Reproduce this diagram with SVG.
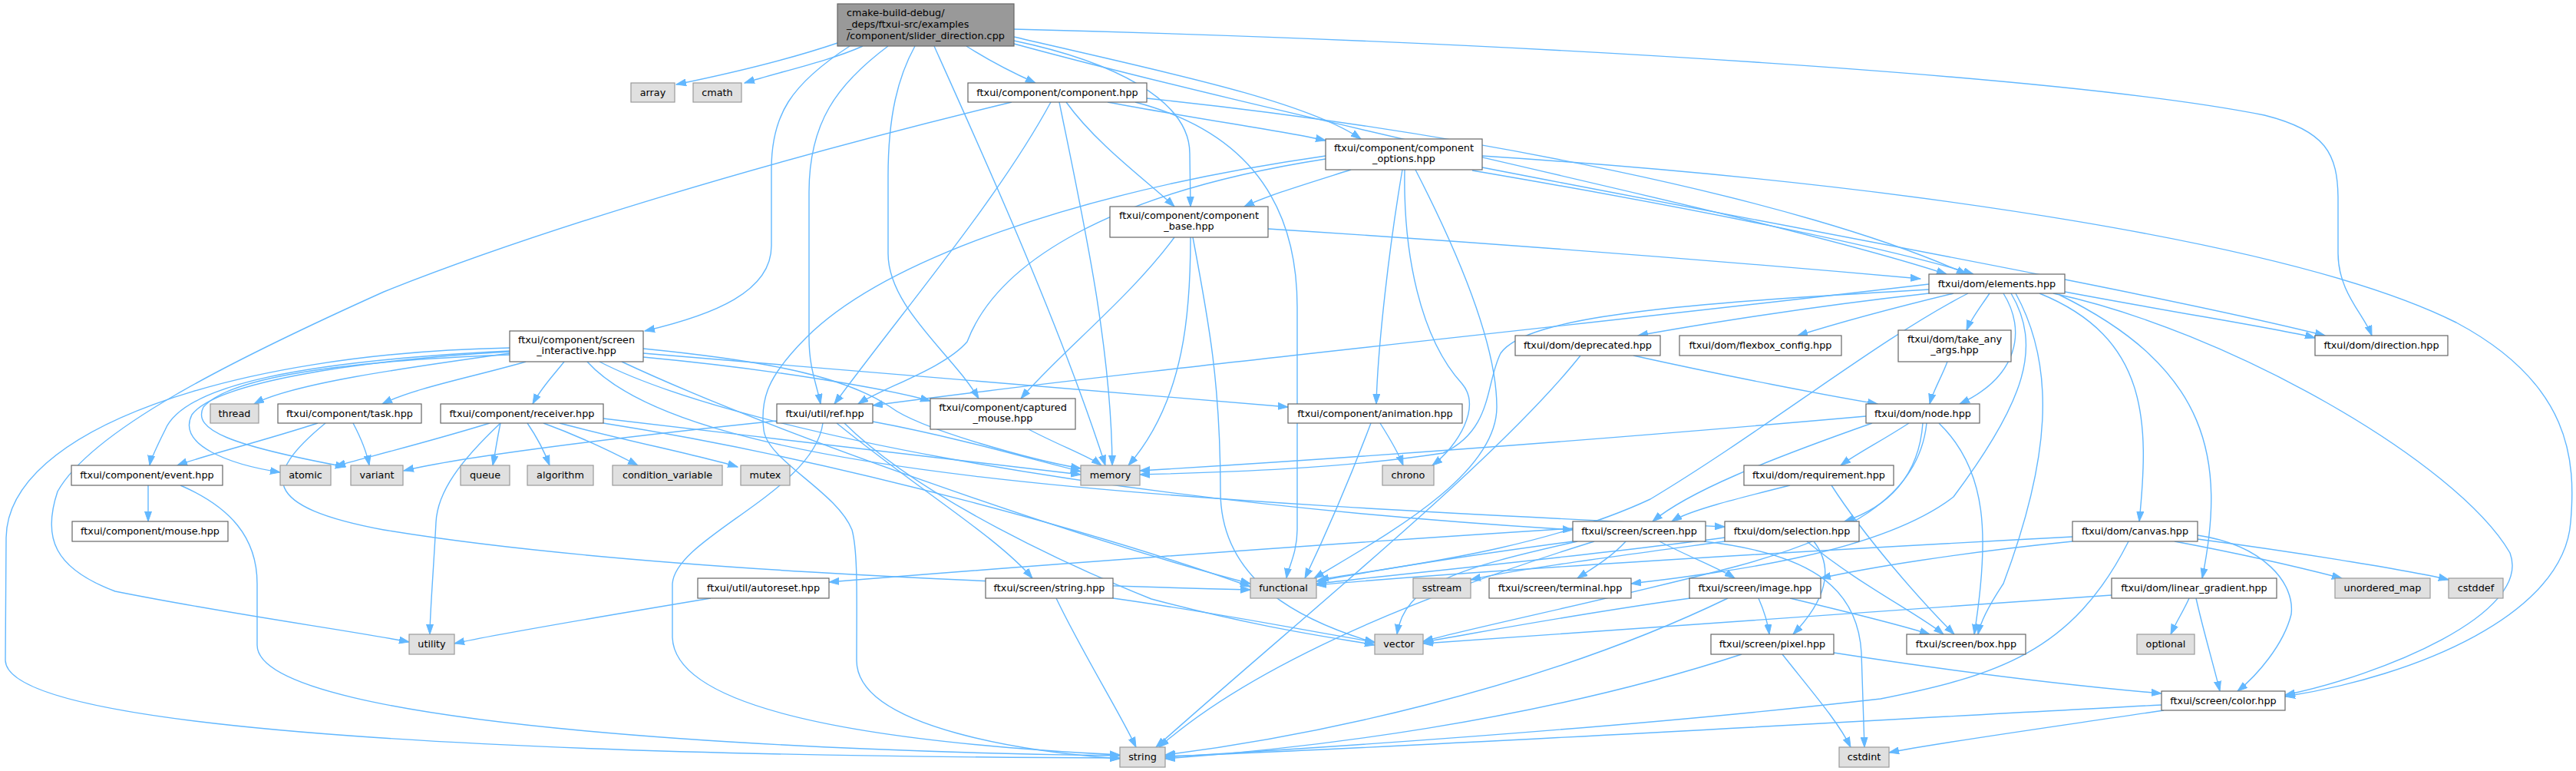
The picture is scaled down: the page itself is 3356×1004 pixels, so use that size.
<svg xmlns="http://www.w3.org/2000/svg" width="3356" height="1004" viewBox="0 0 3356 1004">
<style>
rect{stroke-width:1.2}
.n rect{fill:#ffffff;stroke:#666666}
.x rect{fill:#e0e0e0;stroke:#999999}
.m rect{fill:#999999;stroke:#666666}
text{font-family:"DejaVu Sans",Verdana,sans-serif;font-size:12.8px;fill:#000000;text-anchor:middle}
.m text{text-anchor:start}
#edges path{fill:none;stroke:#63b8ff;stroke-width:1.4;marker-end:url(#a)}
</style>
<defs>
<marker id="a" markerWidth="14" markerHeight="10" refX="13" refY="5" orient="auto" markerUnits="userSpaceOnUse">
<path d="M0,0.5 L13,5 L0,9.5 z" fill="#63b8ff" stroke="#63b8ff" stroke-width="1"/>
</marker>
</defs>
<rect x="0" y="0" width="3356" height="1004" fill="#ffffff"/>
<g id="edges">
<path d="M1091,56 C1020,80 930,100 881,110"/>
<path d="M1124,60 C1080,80 1010,95 970,108"/>
<path d="M1259,60 C1290,80 1320,95 1349,108"/>
<path d="M1107,60 C1030,110 1005,150 1005,220 L1005,320 C1005,380 930,410 840,431"/>
<path d="M1157,60 C1090,110 1054,160 1054,250 L1054,440 C1054,480 1064,500 1069,526"/>
<path d="M1192,60 C1170,100 1157,150 1157,230 L1157,330 C1157,400 1240,460 1275,519"/>
<path d="M1217,60 C1280,200 1380,420 1440,606"/>
<path d="M1321,48 C1500,90 1700,130 1773,181"/>
<path d="M1321,53 C1450,80 1550,130 1550,200 L1551,269"/>
<path d="M1321,57 C1700,160 2300,280 2536,357"/>
<path d="M1321,38 C2000,55 2700,100 2950,150 C3030,170 3046,200 3046,260 L3046,330 C3046,380 3080,410 3090,437"/>
<path d="M1318,133 C1000,210 700,300 500,380 C300,470 120,560 75,640 C55,700 70,740 150,770 C300,800 450,820 533,836"/>
<path d="M1443,133 C1560,155 1680,172 1727,183"/>
<path d="M1389,133 C1430,190 1500,240 1530,269"/>
<path d="M1494,128 C1900,170 2350,260 2562,357"/>
<path d="M1369,133 C1300,260 1180,400 1087,526"/>
<path d="M1380,133 C1410,280 1448,450 1449,606"/>
<path d="M1479,133 C1620,170 1690,260 1690,400 L1690,690 C1690,720 1678,740 1676,753"/>
<path d="M1760,221 C1700,240 1650,255 1621,269"/>
<path d="M1827,221 C1810,320 1795,450 1793,526"/>
<path d="M1830,221 C1828,330 1850,440 1905,500 C1930,530 1900,580 1866,606"/>
<path d="M1844,221 C1900,330 1950,450 1950,530 C1950,620 1800,700 1712,753"/>
<path d="M1727,207 C1450,250 1300,340 1260,445 C1230,480 1150,505 1118,526"/>
<path d="M1727,203 C1400,250 1150,340 1050,440 C1000,490 990,520 995,560 C1000,600 1090,640 1110,690 C1118,720 1116,780 1116,860 C1116,950 1350,980 1459,988"/>
<path d="M1918,222 C2200,270 2450,320 2571,357"/>
<path d="M1931,218 C2300,290 2800,380 3029,437"/>
<path d="M1931,203 C2500,240 3000,320 3200,420 C3350,500 3356,600 3349,680 C3340,800 3150,880 2977,907"/>
<path d="M1652,298 C2000,320 2300,345 2502,363"/>
<path d="M1530,309 C1470,390 1380,460 1330,519"/>
<path d="M1551,309 C1551,400 1545,520 1470,606"/>
<path d="M1554,309 C1575,420 1590,500 1590,640 C1590,760 1700,810 1791,837"/>
<path d="M664,460 C520,480 380,500 331,526"/>
<path d="M685,471 C620,490 540,505 498,526"/>
<path d="M735,471 C720,490 705,505 694,526"/>
<path d="M664,457 C400,470 240,500 215,560 C200,590 196,600 195,606"/>
<path d="M664,458 C450,470 280,500 250,540 C230,580 300,605 365,615"/>
<path d="M664,462 C450,470 300,490 265,530 C250,560 300,580 450,608"/>
<path d="M664,453 C300,460 10,560 8,700 L7,860 C10,960 800,985 1459,987"/>
<path d="M838,465 C1000,480 1150,505 1212,522"/>
<path d="M838,454 C1000,470 1100,490 1160,530 C1200,560 1350,600 1408,610"/>
<path d="M838,460 C1200,490 1500,515 1678,530"/>
<path d="M810,471 C1000,560 1400,700 1629,760"/>
<path d="M781,471 C940,553 1400,650 2049,690"/>
<path d="M765,471 C900,620 1500,650 2247,686"/>
<path d="M1012,548 C800,570 600,595 526,613"/>
<path d="M1137,549 C1250,570 1350,600 1408,614"/>
<path d="M1072,551 C1060,640 880,700 876,760 L876,830 C880,950 1300,975 1459,983"/>
<path d="M1100,551 C1200,650 1400,740 1500,780 C1650,820 1750,832 1791,840"/>
<path d="M1090,551 C1200,640 1300,700 1345,753"/>
<path d="M1340,559 C1380,580 1420,595 1435,606"/>
<path d="M638,551 C560,575 480,595 437,607"/>
<path d="M652,551 C648,570 645,590 642,606"/>
<path d="M687,551 C700,570 710,590 716,606"/>
<path d="M708,551 C760,570 810,595 831,606"/>
<path d="M729,551 C820,575 920,595 961,608"/>
<path d="M786,545 C1000,570 1250,600 1408,618"/>
<path d="M786,551 C1100,600 1450,700 1629,764"/>
<path d="M652,551 C600,600 570,640 568,680 C565,740 560,800 560,826"/>
<path d="M414,551 C340,575 260,595 231,606"/>
<path d="M460,551 C470,570 478,590 481,606"/>
<path d="M424,551 C340,620 340,660 500,690 C800,740 1300,760 1629,768"/>
<path d="M193,632 L193,679"/>
<path d="M235,632 C300,660 335,700 335,760 L335,840 C335,950 1100,980 1459,984"/>
<path d="M1798,551 C1810,570 1822,590 1828,606"/>
<path d="M1786,551 C1760,620 1730,690 1700,753"/>
<path d="M2513,370 C2000,430 1500,480 1137,528"/>
<path d="M2513,377 C2200,395 1990,410 1955,460 C1935,500 1945,560 1880,590 C1750,610 1600,615 1485,618"/>
<path d="M2513,382 C2350,400 2200,425 2134,437"/>
<path d="M2545,382 C2450,405 2380,425 2342,437"/>
<path d="M2592,382 C2580,400 2568,415 2562,430"/>
<path d="M2610,382 C2640,430 2630,490 2553,526"/>
<path d="M2564,382 C2450,440 2300,560 2150,650 C2000,720 1800,740 1718,755"/>
<path d="M2626,382 C2680,480 2670,600 2610,760 C2590,790 2580,810 2577,826"/>
<path d="M2620,382 C2660,450 2640,520 2545,647 C2450,720 2250,745 2125,760"/>
<path d="M2657,382 C2800,440 2800,550 2787,679"/>
<path d="M2683,384 C2880,480 2900,600 2869,753"/>
<path d="M2690,380 C2850,410 2980,430 3016,440"/>
<path d="M2675,382 C2900,430 3200,600 3270,720 C3300,800 3100,880 2977,905"/>
<path d="M2128,463 C2250,490 2380,515 2446,526"/>
<path d="M2059,463 C1950,600 1700,800 1506,973"/>
<path d="M2537,471 C2530,490 2518,510 2514,526"/>
<path d="M2431,542 C2000,580 1700,600 1485,613"/>
<path d="M2439,551 C2300,600 2200,640 2153,679"/>
<path d="M2487,551 C2450,575 2420,590 2398,606"/>
<path d="M2505,551 C2500,620 2460,660 2403,679"/>
<path d="M2510,551 C2500,650 2400,700 2264,737 C2100,780 1950,810 1854,835"/>
<path d="M2526,551 C2590,613 2592,700 2572,826"/>
<path d="M2332,632 C2260,650 2200,665 2178,679"/>
<path d="M2386,632 C2430,700 2500,780 2546,826"/>
<path d="M2247,700 C2100,720 1850,745 1715,760"/>
<path d="M2247,705 C2100,725 1970,742 1916,755"/>
<path d="M2354,705 C2420,760 2500,800 2532,826"/>
<path d="M2363,705 C2390,740 2380,780 2336,826"/>
<path d="M2049,705 C1900,725 1780,745 1715,757"/>
<path d="M2049,688 C1700,710 1300,740 1080,758"/>
<path d="M2118,705 C2100,725 2075,740 2055,753"/>
<path d="M2162,705 C2200,725 2240,740 2260,753"/>
<path d="M2220,705 C2350,720 2420,760 2425,850 L2429,973"/>
<path d="M2077,705 C1900,760 1650,850 1510,973"/>
<path d="M2055,705 C1900,740 1830,760 1820,826"/>
<path d="M2202,779 C2050,800 1920,825 1854,836"/>
<path d="M2291,779 C2298,795 2303,810 2305,826"/>
<path d="M2332,779 C2420,800 2480,815 2514,826"/>
<path d="M2251,779 C2000,900 1700,960 1518,983"/>
<path d="M2322,852 C2360,900 2395,940 2411,973"/>
<path d="M2269,852 C2000,940 1700,975 1518,988"/>
<path d="M2389,850 C2550,875 2700,893 2816,903"/>
<path d="M2819,925 C2650,950 2520,968 2461,980"/>
<path d="M2816,918 C2400,940 1800,975 1518,985"/>
<path d="M2700,699 C2300,720 1900,745 1715,762"/>
<path d="M2700,705 C2550,720 2430,740 2372,753"/>
<path d="M2773,705 C2700,850 2600,880 2450,910 C2100,950 1700,975 1518,986"/>
<path d="M2833,705 C2940,725 3020,745 3051,753"/>
<path d="M2863,702 C3000,720 3150,745 3190,755"/>
<path d="M2863,697 C2950,710 2990,760 2985,800 C2975,840 2940,880 2915,900"/>
<path d="M2852,779 C2845,795 2835,810 2828,826"/>
<path d="M2861,779 C2870,820 2885,870 2892,900"/>
<path d="M2751,775 C2400,800 2000,825 1854,838"/>
<path d="M1450,779 C1600,800 1720,825 1791,836"/>
<path d="M1376,779 C1410,850 1460,930 1480,973"/>
<path d="M926,779 C800,800 650,825 592,838"/>
</g>
<g id="n_main" class="m"><rect x="1091" y="5" width="230" height="55"/><text x="1103" y="21">cmake-build-debug/</text><text x="1103" y="36">_deps/ftxui-src/examples</text><text x="1103" y="51">/component/slider_direction.cpp</text></g>
<g id="n_array" class="x"><rect x="822" y="108" width="57" height="25"/><text x="850.5" y="125">array</text></g>
<g id="n_cmath" class="x"><rect x="903" y="108" width="63" height="25"/><text x="934.5" y="125">cmath</text></g>
<g id="n_component" class="n"><rect x="1261" y="108" width="233" height="25"/><text x="1377.5" y="125">ftxui/component/component.hpp</text></g>
<g id="n_options" class="n"><rect x="1727" y="181" width="204" height="40"/><text x="1829" y="197">ftxui/component/component</text><text x="1829" y="211">_options.hpp</text></g>
<g id="n_base" class="n"><rect x="1446" y="269" width="206" height="40"/><text x="1549" y="285">ftxui/component/component</text><text x="1549" y="299">_base.hpp</text></g>
<g id="n_si" class="n"><rect x="664" y="431" width="174" height="40"/><text x="751" y="447">ftxui/component/screen</text><text x="751" y="461">_interactive.hpp</text></g>
<g id="n_thread" class="x"><rect x="274" y="526" width="63" height="25"/><text x="305.5" y="543">thread</text></g>
<g id="n_task" class="n"><rect x="362" y="526" width="187" height="25"/><text x="455.5" y="543">ftxui/component/task.hpp</text></g>
<g id="n_receiver" class="n"><rect x="574" y="526" width="212" height="25"/><text x="680" y="543">ftxui/component/receiver.hpp</text></g>
<g id="n_ref" class="n"><rect x="1012" y="526" width="125" height="25"/><text x="1074.5" y="543">ftxui/util/ref.hpp</text></g>
<g id="n_captured" class="n"><rect x="1212" y="519" width="189" height="40"/><text x="1306.5" y="535">ftxui/component/captured</text><text x="1306.5" y="549">_mouse.hpp</text></g>
<g id="n_animation" class="n"><rect x="1678" y="526" width="227" height="25"/><text x="1791.5" y="543">ftxui/component/animation.hpp</text></g>
<g id="n_event" class="n"><rect x="93" y="606" width="197" height="26"/><text x="191.5" y="623">ftxui/component/event.hpp</text></g>
<g id="n_atomic" class="x"><rect x="365" y="606" width="66" height="26"/><text x="398" y="623">atomic</text></g>
<g id="n_variant" class="x"><rect x="457" y="606" width="68" height="26"/><text x="491" y="623">variant</text></g>
<g id="n_queue" class="x"><rect x="600" y="606" width="64" height="26"/><text x="632" y="623">queue</text></g>
<g id="n_algorithm" class="x"><rect x="687" y="606" width="86" height="26"/><text x="730" y="623">algorithm</text></g>
<g id="n_condvar" class="x"><rect x="798" y="606" width="143" height="26"/><text x="869.5" y="623">condition_variable</text></g>
<g id="n_mutex" class="x"><rect x="965" y="606" width="64" height="26"/><text x="997" y="623">mutex</text></g>
<g id="n_memory" class="x"><rect x="1408" y="606" width="77" height="26"/><text x="1446.5" y="623">memory</text></g>
<g id="n_chrono" class="x"><rect x="1801" y="606" width="67" height="26"/><text x="1834.5" y="623">chrono</text></g>
<g id="n_deprecated" class="n"><rect x="1974" y="437" width="189" height="26"/><text x="2068.5" y="454">ftxui/dom/deprecated.hpp</text></g>
<g id="n_flexbox" class="n"><rect x="2188" y="437" width="211" height="26"/><text x="2293.5" y="454">ftxui/dom/flexbox_config.hpp</text></g>
<g id="n_takeany" class="n"><rect x="2473" y="430" width="147" height="41"/><text x="2546.5" y="446">ftxui/dom/take_any</text><text x="2546.5" y="460">_args.hpp</text></g>
<g id="n_elements" class="n"><rect x="2513" y="357" width="177" height="25"/><text x="2601.5" y="374">ftxui/dom/elements.hpp</text></g>
<g id="n_direction" class="n"><rect x="3016" y="437" width="173" height="26"/><text x="3102.5" y="454">ftxui/dom/direction.hpp</text></g>
<g id="n_node" class="n"><rect x="2431" y="526" width="148" height="25"/><text x="2505" y="543">ftxui/dom/node.hpp</text></g>
<g id="n_requirement" class="n"><rect x="2272" y="606" width="195" height="26"/><text x="2369.5" y="623">ftxui/dom/requirement.hpp</text></g>
<g id="n_mouse" class="n"><rect x="94" y="679" width="203" height="26"/><text x="195.5" y="696">ftxui/component/mouse.hpp</text></g>
<g id="n_autoreset" class="n"><rect x="909" y="753" width="171" height="26"/><text x="994.5" y="770">ftxui/util/autoreset.hpp</text></g>
<g id="n_utility" class="x"><rect x="533" y="826" width="59" height="26"/><text x="562.5" y="843">utility</text></g>
<g id="n_stringhpp" class="n"><rect x="1284" y="753" width="166" height="26"/><text x="1367" y="770">ftxui/screen/string.hpp</text></g>
<g id="n_functional" class="x"><rect x="1629" y="753" width="86" height="26"/><text x="1672" y="770">functional</text></g>
<g id="n_screen" class="n"><rect x="2049" y="679" width="173" height="26"/><text x="2135.5" y="696">ftxui/screen/screen.hpp</text></g>
<g id="n_selection" class="n"><rect x="2247" y="679" width="175" height="26"/><text x="2334.5" y="696">ftxui/dom/selection.hpp</text></g>
<g id="n_sstream" class="x"><rect x="1841" y="753" width="75" height="26"/><text x="1878.5" y="770">sstream</text></g>
<g id="n_terminal" class="n"><rect x="1940" y="753" width="185" height="26"/><text x="2032.5" y="770">ftxui/screen/terminal.hpp</text></g>
<g id="n_image" class="n"><rect x="2201" y="753" width="171" height="26"/><text x="2286.5" y="770">ftxui/screen/image.hpp</text></g>
<g id="n_vector" class="x"><rect x="1791" y="826" width="63" height="26"/><text x="1822.5" y="843">vector</text></g>
<g id="n_pixel" class="n"><rect x="2229" y="826" width="160" height="26"/><text x="2309" y="843">ftxui/screen/pixel.hpp</text></g>
<g id="n_box" class="n"><rect x="2484" y="826" width="155" height="26"/><text x="2561.5" y="843">ftxui/screen/box.hpp</text></g>
<g id="n_string" class="x"><rect x="1459" y="973" width="59" height="26"/><text x="1488.5" y="990">string</text></g>
<g id="n_cstdint" class="x"><rect x="2396" y="973" width="65" height="26"/><text x="2428.5" y="990">cstdint</text></g>
<g id="n_canvas" class="n"><rect x="2700" y="679" width="163" height="26"/><text x="2781.5" y="696">ftxui/dom/canvas.hpp</text></g>
<g id="n_lingrad" class="n"><rect x="2751" y="753" width="215" height="26"/><text x="2858.5" y="770">ftxui/dom/linear_gradient.hpp</text></g>
<g id="n_umap" class="x"><rect x="3042" y="753" width="124" height="26"/><text x="3104" y="770">unordered_map</text></g>
<g id="n_cstddef" class="x"><rect x="3190" y="753" width="71" height="26"/><text x="3225.5" y="770">cstddef</text></g>
<g id="n_optional" class="x"><rect x="2784" y="826" width="75" height="26"/><text x="2821.5" y="843">optional</text></g>
<g id="n_color" class="n"><rect x="2816" y="900" width="161" height="25"/><text x="2896.5" y="917">ftxui/screen/color.hpp</text></g>
</svg>
